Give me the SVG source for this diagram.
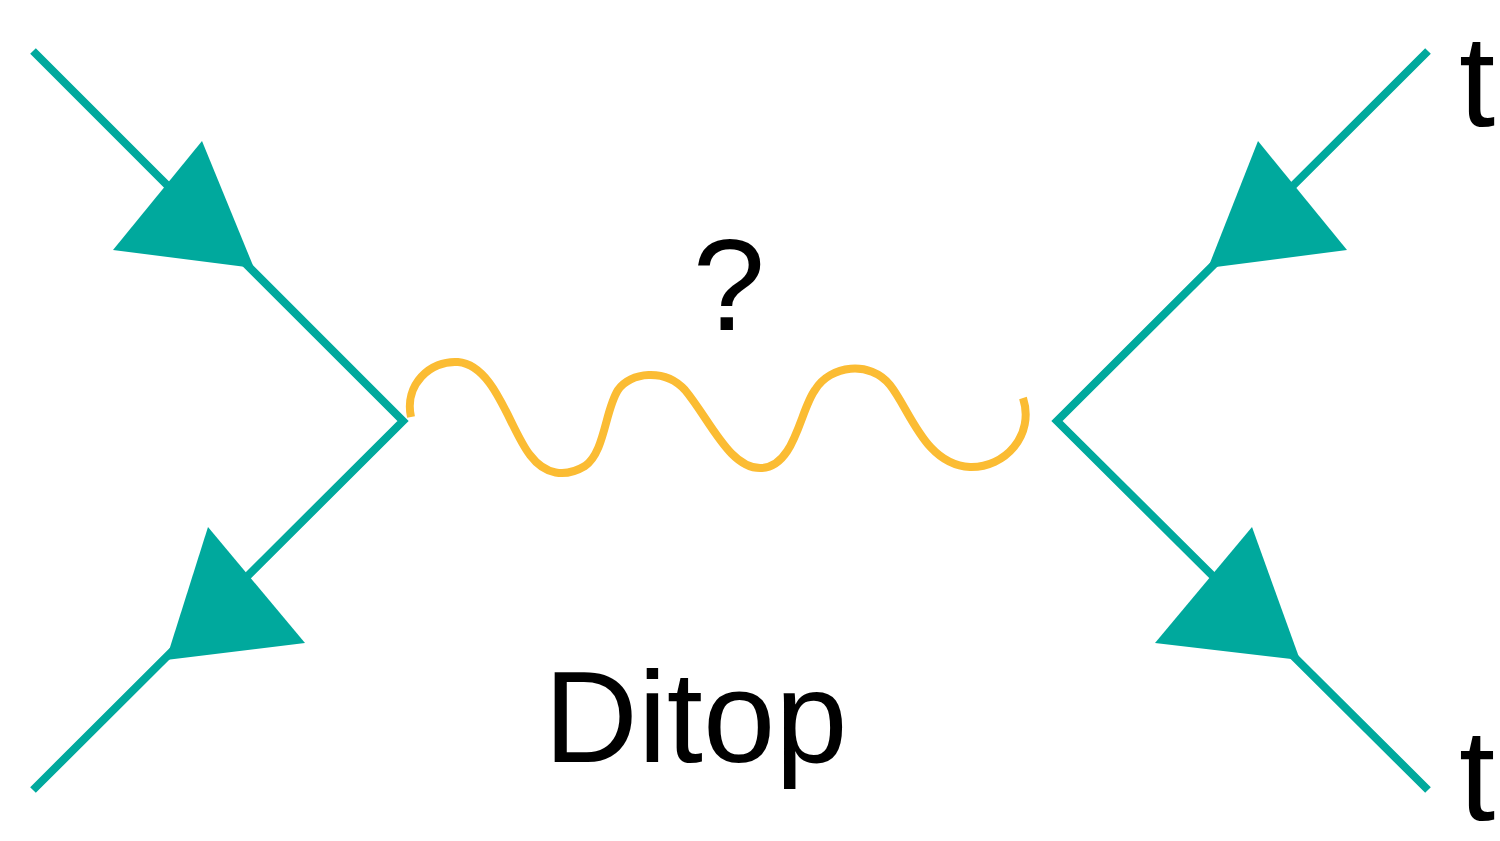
<svg xmlns="http://www.w3.org/2000/svg" width="1500" height="841" viewBox="0 0 1500 841">
<style>
.f{fill:none;stroke:#00A99D;stroke-width:8;stroke-linejoin:miter;stroke-miterlimit:10}
.a{fill:#00A99D}
.w{fill:none;stroke:#FBBC33;stroke-width:8}
.t{font-family:"Liberation Sans",Arial,sans-serif;fill:#000;font-size:130px}
</style>
<rect width="1500" height="841" fill="#fff"/>
<g id="connectors">
<polyline id="left-fermions" class="f" points="33,51 403,421 33,790"/>
<polyline id="right-fermions" class="f" points="1428,51 1057,421 1428,790"/>
<path id="wave" class="w" d="M 411,417 C 404,385 430,360 458,362 C 495,365 510,430 530,455 C 545,475 565,478 585,466 C 605,452 605,410 618,390 C 630,372 665,368 685,390 C 710,420 730,470 762,468 C 795,466 800,410 815,390 C 830,365 870,360 890,385 C 910,410 925,465 970,467 C 1005,468 1035,435 1023,398"/>
<polygon class="a" points="202,141 113,250 254,268"/>
<polygon class="a" points="208,527 305,643 166,660"/>
<polygon class="a" points="1258,141 1347,250 1208,268"/>
<polygon class="a" points="1252,527 1155,643 1300,660"/>
</g>
<g id="label-q"><text class="t" x="729" y="330" text-anchor="middle" font-size="134">?</text></g>
<g id="label-ditop"><text class="t" x="544" y="762" font-size="134">Ditop</text></g>
<g id="label-t1"><text class="t" x="1459" y="126" font-size="128">t</text></g>
<g id="label-t2"><text class="t" x="1459" y="820" font-size="128">t</text></g>
</svg>
